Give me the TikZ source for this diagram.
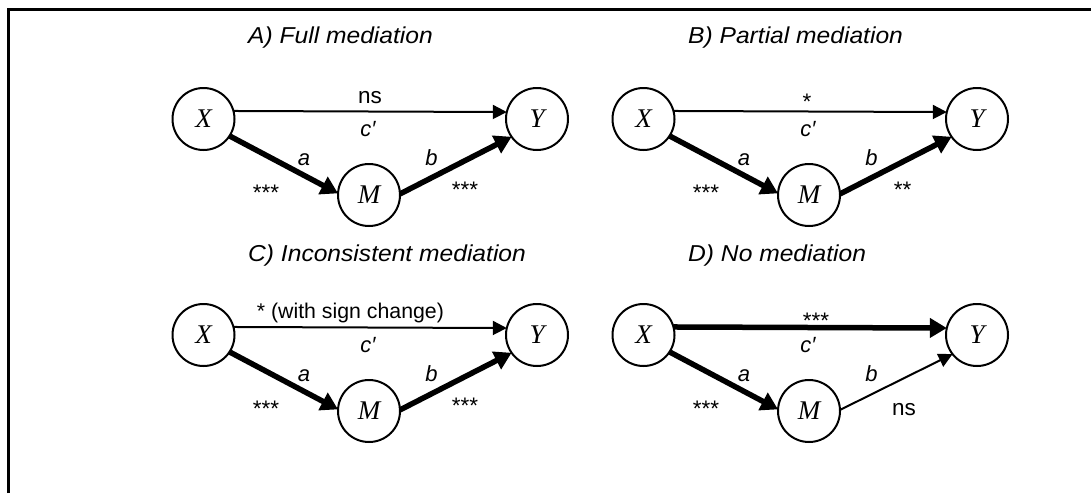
\documentclass[tikz,border=0pt]{standalone}
\usepackage{fontspec}
\usetikzlibrary{arrows.meta}
\newfontfamily\sanslab{Liberation Sans}
\newfontfamily\sanstitle[FakeStretch=1.07]{Liberation Sans}
\newfontfamily\serifvar{Liberation Serif}
\tikzset{
  var/.style={circle,draw,line width=2pt,inner sep=0pt,outer sep=0pt,minimum size=62pt,
    font=\serifvar\itshape\fontsize{27}{30}\selectfont},
  lab/.style={inner sep=0pt,anchor=base,font=\sanslab\fontsize{22.5}{26}\selectfont},
  ilab/.style={lab,font=\sanslab\itshape\fontsize{22}{26}\selectfont},
  ttl/.style={inner sep=0pt,anchor=base west,font=\sanstitle\itshape\fontsize{23}{27}\selectfont},
  thinarrow/.style={line width=2pt,-{Triangle[length=14pt,width=14pt]}},
  fatarrow/.style={line width=5.5pt,-{Triangle[length=17pt,width=19pt]}},
}
\begin{document}
\begin{tikzpicture}[x=1pt,y=-1pt]
\useasboundingbox (0,0) rectangle (1091,493);
\draw[line width=2.5pt] (8.3,493) -- (8.3,9.5) -- (1091,9.5);

% ---------- A ----------
\node[ttl] (At) at (248,43) {A) Full mediation};
\node[var] (AX) at (203.5,119) {X};
\node[var] (AY) at (537,119) {Y};
\node[var] (AM) at (369,195) {M};
\draw[thinarrow] (AX.15) -- (AY.167);
\draw[fatarrow] (AX.-33) -- (AM.177);
\draw[fatarrow] (AM.2) -- (AY.215);
\node[lab] (Atop) at (370,103) {ns};
\node[ilab] (Ac) at (368,136.5) {c′};
\node[ilab] (Aa) at (304,165) {a};
\node[ilab] (Ab) at (431.5,165) {b};
\node[lab] (Asl) at (266,200) {***};
\node[lab] (Asr) at (465,197.5) {***};

% ---------- B ----------
\node[ttl] (Bt) at (688,43) {B) Partial mediation};
\node[var] (BX) at (643.5,119) {X};
\node[var] (BY) at (977,119) {Y};
\node[var] (BM) at (809,195) {M};
\draw[thinarrow] (BX.15) -- (BY.167);
\draw[fatarrow] (BX.-33) -- (BM.177);
\draw[fatarrow] (BM.2) -- (BY.215);
\node[lab] (Btop) at (807,109.7) {*};
\node[ilab] (Bc) at (808,136.5) {c′};
\node[ilab] (Ba) at (744,165) {a};
\node[ilab] (Bb) at (871.5,165) {b};
\node[lab] (Bsl) at (706,200) {***};
\node[lab] (Bsr) at (902.5,197.5) {**};

% ---------- C ----------
\node[ttl] (Ct) at (248,261.7) {C) Inconsistent mediation};
\node[var] (CX) at (203.5,335) {X};
\node[var] (CY) at (537,335) {Y};
\node[var] (CM) at (369,411) {M};
\draw[thinarrow] (CX.15) -- (CY.167);
\draw[fatarrow] (CX.-33) -- (CM.177);
\draw[fatarrow] (CM.2) -- (CY.215);
\node[lab,anchor=base west,font=\sanslab\fontsize{21.3}{25}\selectfont] (Ctop) at (256.7,318.3) {* (with sign change)};
\node[ilab] (Cc) at (368,352.5) {c′};
\node[ilab] (Ca) at (304,381) {a};
\node[ilab] (Cb) at (431.5,381) {b};
\node[lab] (Csl) at (266,416) {***};
\node[lab] (Csr) at (465,413.5) {***};

% ---------- D ----------
\node[ttl] (Dt) at (688,261.7) {D) No mediation};
\node[var] (DX) at (643.5,335) {X};
\node[var] (DY) at (977,335) {Y};
\node[var] (DM) at (809,411) {M};
\draw[fatarrow] (DX.15) -- (DY.167);
\draw[fatarrow] (DX.-33) -- (DM.177);
\draw[thinarrow] (DM.2) -- (DY.218);
\node[lab] (Dtop) at (816,328) {***};
\node[ilab] (Dc) at (808,352.5) {c′};
\node[ilab] (Da) at (744,381) {a};
\node[ilab] (Db) at (871.5,381) {b};
\node[lab] (Dsl) at (706,416) {***};
\node[lab] (Dsr) at (904,415) {ns};
\end{tikzpicture}
\end{document}
